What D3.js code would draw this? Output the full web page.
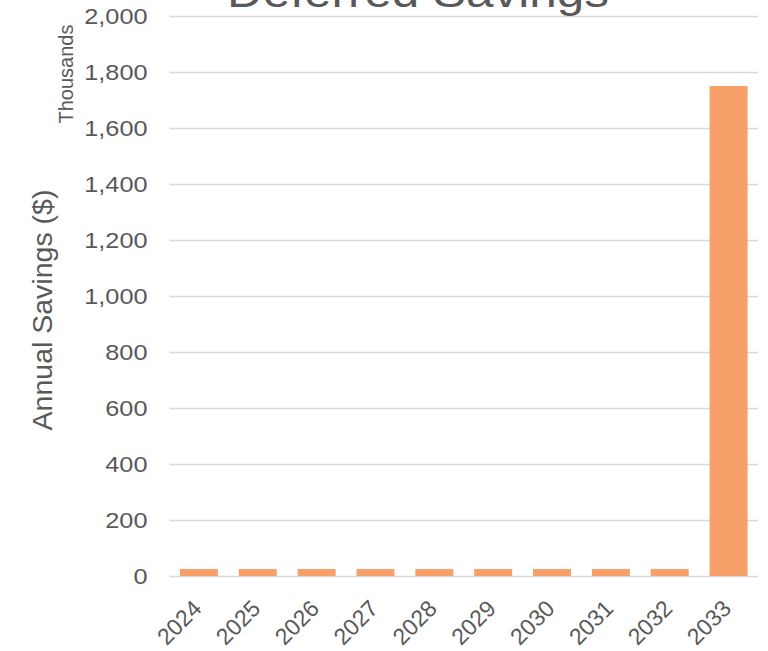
<!DOCTYPE html>
<html>
<head>
<meta charset="utf-8">
<script src="https://cdn.jsdelivr.net/npm/d3@7/dist/d3.min.js"></script>
<style>
  html, body { margin: 0; padding: 0; background: #fff; }
  svg { display: block; font-family: "Liberation Sans", Arial, sans-serif; }
</style>
</head>
<body>
<svg id="chart" width="768" height="651"></svg>
<script>
// Annual deferred savings by year (values in thousands of dollars)
const years = ["2024", "2025", "2026", "2027", "2028", "2029", "2030", "2031", "2032", "2033"];
const savings = [25, 25, 25, 25, 25, 25, 25, 25, 25, 1750];
const yTicks = [0, 200, 400, 600, 800, 1000, 1200, 1400, 1600, 1800, 2000];

const titleText = "Deferred Savings";
const yTitle = "Annual Savings ($)";
const unitLabel = "Thousands";

const svg = d3.select("#chart");
const plot = { left: 169.5, right: 758, top: 16, bottom: 576 };
const textColor = "#595959";
const gridColor = "#d9d9d9";
const barColor = "#f8a06a";
const wide = "scale(1.15,1)"; // slightly widened lettering

const x = d3.scaleBand()
  .domain(years)
  .range([plot.left, plot.right])
  .paddingInner(0.354)
  .paddingOuter(0.177);

const y = d3.scaleLinear()
  .domain([0, 2000])
  .range([plot.bottom, plot.top]);

// Horizontal gridlines with tick labels on the left
const yAxis = d3.axisLeft(y)
  .tickValues(yTicks)
  .tickFormat(d3.format(","))
  .tickSize(-(plot.right - plot.left));

const gy = svg.append("g")
  .attr("transform", `translate(${plot.left},0)`)
  .call(yAxis);
gy.select(".domain").remove();
gy.selectAll(".tick line").attr("stroke", gridColor).attr("stroke-width", 1.3);
gy.selectAll(".tick text")
  .attr("fill", textColor)
  .attr("font-size", 22)
  .attr("font-family", "Liberation Sans, Arial, sans-serif")
  .attr("x", 0)
  .attr("transform", `translate(-22,0) ${wide}`);

// Bars
svg.append("g")
  .selectAll("rect")
  .data(years.map((yr, i) => ({ yr, v: savings[i] })))
  .join("rect")
  .attr("x", d => x(d.yr))
  .attr("width", x.bandwidth())
  .attr("y", d => y(d.v))
  .attr("height", d => y(0) - y(d.v))
  .attr("fill", barColor);

// Category labels, rotated
const xAxis = d3.axisBottom(x).tickSize(0).tickPadding(0);
const gx = svg.append("g")
  .attr("transform", `translate(0,${plot.bottom})`)
  .call(xAxis);
gx.select(".domain").remove();
gx.selectAll(".tick text")
  .attr("fill", textColor)
  .attr("font-size", 23)
  .attr("font-family", "Liberation Sans, Arial, sans-serif")
  .attr("text-anchor", "end")
  .attr("dy", null)
  .attr("y", 0)
  .attr("transform", "translate(4,34) rotate(-45)");

// Title (sits partly above the top edge)
svg.append("text")
  .attr("transform", `translate(418,7) ${wide}`)
  .attr("text-anchor", "middle")
  .attr("fill", textColor)
  .attr("font-size", 43)
  .text(titleText);

// Axis title
svg.append("text")
  .attr("transform", "translate(52,310) rotate(-90)")
  .attr("text-anchor", "middle")
  .attr("fill", textColor)
  .attr("font-size", 28.5)
  .text(yTitle);

// Display unit label
svg.append("text")
  .attr("transform", "translate(73,74) rotate(-90)")
  .attr("text-anchor", "middle")
  .attr("fill", textColor)
  .attr("font-size", 20)
  .text(unitLabel);
</script>
</body>
</html>
